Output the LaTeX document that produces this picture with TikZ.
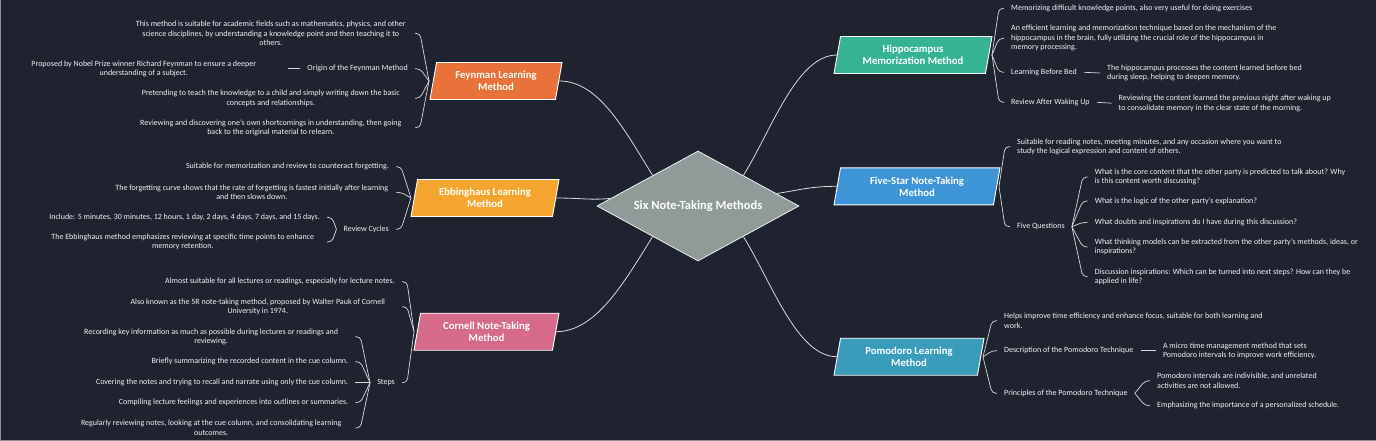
\documentclass[tikz,border=0pt]{standalone}
\usepackage{fontspec}
\setmainfont{Carlito}
\usetikzlibrary{shapes.geometric}
\definecolor{bg}{HTML}{1F2330}
\definecolor{framecol}{HTML}{8A8F99}
\definecolor{feyncol}{HTML}{E9713A}
\definecolor{ebbcol}{HTML}{F3A530}
\definecolor{corncol}{HTML}{D56A8B}
\definecolor{hipcol}{HTML}{35B394}
\definecolor{fivecol}{HTML}{3D94D6}
\definecolor{pomocol}{HTML}{3A9CBB}
\definecolor{hubcol}{HTML}{8E9B98}
\definecolor{linecol}{HTML}{DADADA}
\definecolor{txtcol}{HTML}{F2F2F2}
\tikzset{
  hub/.style={diamond, aspect=1.84, minimum width=202pt, minimum height=110pt, inner sep=0pt, fill=hubcol, draw=white!85!hubcol, line width=0.8pt, text=white, font=\fontsize{12.5}{14}\selectfont\bfseries},
  method/.style={trapezium, trapezium left angle=76, trapezium right angle=104, trapezium stretches body, minimum height=37pt, draw=white, line width=0.9pt, text=white, align=center, font=\fontsize{10.7}{12}\selectfont\bfseries},
  note/.style={text=txtcol, inner xsep=7pt, inner ysep=1pt, font=\fontsize{8}{9.5}\selectfont},
  lnote/.style={note, anchor=east, align=center},
  wnote/.style={lnote, minimum width=288pt},
  rnote/.style={note, anchor=west, align=left},
  link/.style={draw=linecol, line width=0.8pt},
  branch/.style={draw=linecol, line width=0.7pt, rounded corners=4pt}
}

\begin{document}
\begin{tikzpicture}[x=1pt, y=-1pt]
\fill[bg] (0,0) rectangle (1376,441);
\fill[framecol] (0,0) rectangle (1,441);
\fill[framecol] (0,440) rectangle (1376,441);
\useasboundingbox (0,0) rectangle (1376,441);

\node[hub] (six) at (698,206) {Six Note-Taking Methods};

\node[method, fill=feyncol, minimum width=132pt] (feyn) at (496,81) {Feynman Learning\\Method};
\node[method, fill=ebbcol, minimum width=148pt] (ebb) at (485,198) {Ebbinghaus Learning\\Method};
\node[method, fill=corncol, minimum width=145pt] (corn) at (486.5,331.7) {Cornell Note-Taking\\Method};
\node[method, fill=hipcol, minimum width=158pt] (hip) at (913,55) {Hippocampus\\Memorization Method};
\node[method, fill=fivecol, minimum width=166pt] (five) at (917,186.3) {Five-Star Note-Taking\\Method};
\node[method, fill=pomocol, minimum width=150pt] (pomo) at (909,356.7) {Pomodoro Learning\\Method};

\draw[link] (feyn.east) .. controls +(40,0) and +(-28,-45) .. (six.146);
\draw[link] (ebb.east) .. controls +(25,0) and +(-20,2) .. (six.175);
\draw[link] (corn.east) .. controls +(40,0) and +(-28,45) .. (six.214);
\draw[link] (six.34) .. controls +(28,-45) and +(-40,0) .. (hip.west);
\draw[link] (six.9) .. controls +(25,-4) and +(-25,0) .. (five.west);
\draw[link] (six.326) .. controls +(28,45) and +(-40,0) .. (pomo.west);

\coordinate (feynj) at (429,81);
\node[wnote] (feyn1) at (415,33.3) {This method is suitable for academic fields such as mathematics, physics, and other\\science disciplines, by understanding a knowledge point and then teaching it to\\others.};
\node[lnote] (feyn2) at (415,68.7) {Origin of the Feynman Method};
\node[wnote] (feyn2a) at (288,68.7) {Proposed by Nobel Prize winner Richard Feynman to ensure a deeper\\understanding of a subject.};
\node[wnote] (feyn3) at (415,98.3) {Pretending to teach the knowledge to a child and simply writing down the basic\\concepts and relationships.};
\node[wnote] (feyn4) at (415,127.7) {Reviewing and discovering one's own shortcomings in understanding, then going\\back to the original material to relearn.};
\draw[branch] (feyn1.east) -- ++(5,0) -- (feynj);
\draw[branch] (feyn2.east) -- ++(5,0) -- (feynj);
\draw[branch] (feyn3.east) -- ++(5,0) -- (feynj);
\draw[branch] (feyn4.east) -- ++(5,0) -- (feynj);
\draw[branch] (feyn2.west) -- (feyn2a.east);

\coordinate (ebbj) at (411,198);
\node[lnote] (ebb1) at (396,166.7) {Suitable for memorization and review to counteract forgetting.};
\node[wnote] (ebb2) at (396,192.3) {The forgetting curve shows that the rate of forgetting is fastest initially after learning\\and then slows down.};
\node[lnote] (ebb3) at (396,229.3) {Review Cycles};
\node[lnote] (ebb3a) at (327,217.3) {Include: 5 minutes, 30 minutes, 12 hours, 1 day, 2 days, 4 days, 7 days, and 15 days.};
\node[wnote] (ebb3b) at (327,242) {The Ebbinghaus method emphasizes reviewing at specific time points to enhance\\memory retention.};
\draw[branch] (ebb1.east) -- ++(5,0) -- (ebbj);
\draw[branch] (ebb2.east) -- ++(5,0) -- (ebbj);
\draw[branch] (ebb3.east) -- ++(5,0) -- (ebbj);
\draw[branch] (ebb3a.east) -- ++(5,0) -- (ebb3.west);
\draw[branch] (ebb3b.east) -- ++(5,0) -- (ebb3.west);

\coordinate (cornj) at (414,331.7);
\node[lnote] (corn1) at (402,281.7) {Almost suitable for all lectures or readings, especially for lecture notes.};
\node[wnote] (corn2) at (402,306.7) {Also known as the 5R note-taking method, proposed by Walter Pauk of Cornell\\University in 1974.};
\node[lnote] (corn3) at (402,382.7) {Steps};
\node[wnote] (corn3a) at (355.4,336.7) {Recording key information as much as possible during lectures or readings and\\reviewing.};
\node[lnote] (corn3b) at (355.4,361.7) {Briefly summarizing the recorded content in the cue column.};
\node[lnote] (corn3c) at (355.4,382.7) {Covering the notes and trying to recall and narrate using only the cue column.};
\node[lnote] (corn3d) at (355.4,402.7) {Compiling lecture feelings and experiences into outlines or summaries.};
\node[wnote] (corn3e) at (355.4,428) {Regularly reviewing notes, looking at the cue column, and consolidating learning\\outcomes.};
\draw[branch] (corn1.east) -- ++(5,0) -- (cornj);
\draw[branch] (corn2.east) -- ++(5,0) -- (cornj);
\draw[branch] (corn3.east) -- ++(5,0) -- (cornj);
\draw[branch] (corn3a.east) -- ++(5,0) -- (corn3.west);
\draw[branch] (corn3b.east) -- ++(5,0) -- (corn3.west);
\draw[branch] (corn3c.east) -- (corn3.west);
\draw[branch] (corn3d.east) -- ++(5,0) -- (corn3.west);
\draw[branch] (corn3e.east) -- ++(5,0) -- (corn3.west);

\coordinate (hipj) at (992,55);
\node[rnote] (hip1) at (1004,8.3) {Memorizing difficult knowledge points, also very useful for doing exercises};
\node[rnote] (hip2) at (1004,38.3) {An efficient learning and memorization technique based on the mechanism of the\\hippocampus in the brain, fully utilizing the crucial role of the hippocampus in\\memory processing.};
\node[rnote] (hip3) at (1004,72.3) {Learning Before Bed};
\node[rnote] (hip3a) at (1100,73) {The hippocampus processes the content learned before bed\\during sleep, helping to deepen memory.};
\node[rnote] (hip4) at (1004,102.3) {Review After Waking Up};
\node[rnote] (hip4a) at (1111.5,103.2) {Reviewing the content learned the previous night after waking up\\to consolidate memory in the clear state of the morning.};
\draw[branch] (hip1.west) -- ++(-5,0) -- (hipj);
\draw[branch] (hip2.west) -- ++(-5,0) -- (hipj);
\draw[branch] (hip3.west) -- ++(-5,0) -- (hipj);
\draw[branch] (hip4.west) -- ++(-5,0) -- (hipj);
\draw[branch] (hip3.east) -- (hip3a.west);
\draw[branch] (hip4.east) -- (hip4a.west);

\coordinate (fivej) at (999,186.5);
\node[rnote] (five1) at (1010,146.7) {Suitable for reading notes, meeting minutes, and any occasion where you want to\\study the logical expression and content of others.};
\node[rnote] (five2) at (1010,226.7) {Five Questions};
\node[rnote] (five2a) at (1087.7,177) {What is the core content that the other party is predicted to talk about? Why\\is this content worth discussing?};
\node[rnote] (five2b) at (1087.7,201) {What is the logic of the other party's explanation?};
\node[rnote] (five2c) at (1087.7,222.3) {What doubts and inspirations do I have during this discussion?};
\node[rnote] (five2d) at (1087.7,247) {What thinking models can be extracted from the other party's methods, ideas, or\\inspirations?};
\node[rnote] (five2e) at (1087.7,276.7) {Discussion inspirations: Which can be turned into next steps? How can they be\\applied in life?};
\draw[branch] (five1.west) -- ++(-5,0) -- (fivej);
\draw[branch] (five2.west) -- ++(-5,0) -- (fivej);
\draw[branch] (five2a.west) -- ++(-5,0) -- (five2.east);
\draw[branch] (five2b.west) -- ++(-5,0) -- (five2.east);
\draw[branch] (five2c.west) -- ++(-5,0) -- (five2.east);
\draw[branch] (five2d.west) -- ++(-5,0) -- (five2.east);
\draw[branch] (five2e.west) -- ++(-5,0) -- (five2.east);

\coordinate (pomoj) at (983,357);
\node[rnote] (pomo1) at (997,320.7) {Helps improve time efficiency and enhance focus, suitable for both learning and\\work.};
\node[rnote] (pomo2) at (997,350.7) {Description of the Pomodoro Technique};
\node[rnote] (pomo2a) at (1155.8,350.7) {A micro time management method that sets\\Pomodoro intervals to improve work efficiency.};
\node[rnote] (pomo3) at (997,393.3) {Principles of the Pomodoro Technique};
\node[rnote] (pomo3a) at (1150,380.7) {Pomodoro intervals are indivisible, and unrelated\\activities are not allowed.};
\node[rnote] (pomo3b) at (1150,405.7) {Emphasizing the importance of a personalized schedule.};
\draw[branch] (pomo1.west) -- ++(-5,0) -- (pomoj);
\draw[branch] (pomo2.west) -- ++(-5,0) -- (pomoj);
\draw[branch] (pomo3.west) -- ++(-5,0) -- (pomoj);
\draw[branch] (pomo2.east) -- (pomo2a.west);
\draw[branch] (pomo3a.west) -- ++(-5,0) -- (pomo3.east);
\draw[branch] (pomo3b.west) -- ++(-5,0) -- (pomo3.east);
\end{tikzpicture}
\end{document}
